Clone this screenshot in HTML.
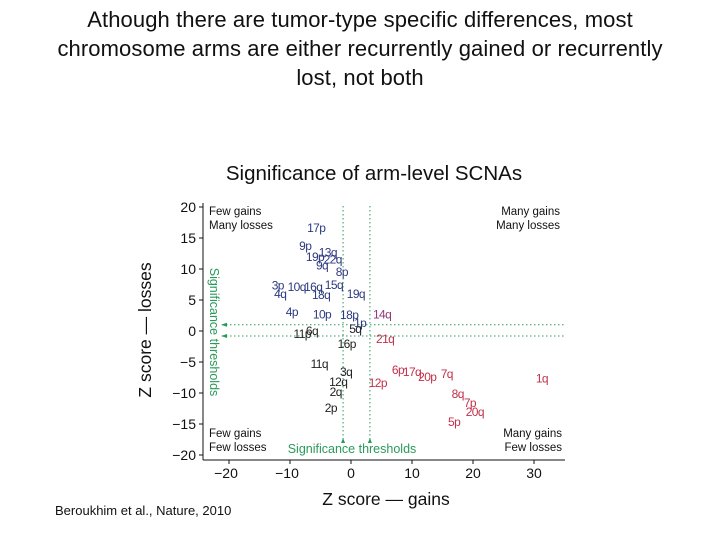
<!DOCTYPE html>
<html><head><meta charset="utf-8"><style>
body{margin:0;background:#fff;width:720px;height:540px;overflow:hidden;font-family:"Liberation Sans",sans-serif}
.hdr{position:absolute;left:0;top:5px;width:720px;text-align:center;font-size:22px;line-height:29px;color:#111;letter-spacing:0.1px}
.cite{position:absolute;left:55px;top:503px;font-size:13px;color:#111}
</style></head><body>
<div class="hdr">Athough there are tumor-type specific differences, most<br>chromosome arms are either recurrently gained or recurrently<br>lost, not both</div>
<div class="cite">Beroukhim et al., Nature, 2010</div>
<svg id="chart" width="720" height="540" style="position:absolute;left:0;top:0"></svg>
<script>
const labels=["17p","9p","13q","19p","22q","9q","8p","3p","4q","10q","16q","18q","15q","19q","4p","10p","18p","14q","1p","5q","6q","11p","16p","21q","11q","3q","12q","2q","2p","12p","6p","17q","20p","7q","1q","8q","7p","20q","5p"];
const gains=[-5.7,-7.5,-3.8,-5.9,-3.0,-4.75,-1.5,-12,-11.6,-8.9,-6.2,-4.9,-2.8,0.8,-9.7,-4.75,-0.3,5.1,1.5,0.7,-6.4,-8,-0.7,5.6,-5.2,-0.8,-2.1,-2.5,-3.3,4.4,7.7,10,12.5,15.7,31.3,17.5,19.5,20.3,16.9];
const losses=[16.6,13.7,12.7,11.9,11.5,10.6,9.5,7.3,6,7.1,7.1,5.8,7.4,6,3.1,2.7,2.6,2.7,1.3,0.3,0,-0.5,-2.1,-1.3,-5.3,-6.6,-8.2,-9.8,-12.4,-8.4,-6.3,-6.6,-7.4,-6.9,-7.7,-10.2,-11.6,-13.1,-14.7];
const groups=["b","b","b","b","b","b","b","b","b","b","b","b","b","b","b","b","b","p","b","k","k","k","k","r","k","k","k","k","k","r","r","r","r","r","r","r","r","r","r"];
const xTicks=[-20,-10,0,10,20,30];
const yTicks=[20,15,10,5,0,-5,-10,-15,-20];
const thrX=[-1.3,3.1], thrY=[1,-0.8];
const X=v=>351+v*6.1, Y=v=>331-v*6.2;
const col={b:"#2c3a80",k:"#222",r:"#c3304a",p:"#8a3b7c"};
const G="#2a9a5a";
const svg=document.getElementById('chart');
function mk(t,a,txt){const e=document.createElementNS("http://www.w3.org/2000/svg",t);for(const k in a)e.setAttribute(k,a[k]);if(txt!=null)e.textContent=txt;svg.appendChild(e);return e;}
let e;
e=mk("text",{x:374,y:180,"text-anchor":"middle","font-size":20.5,fill:"#111"},"Significance of arm-level SCNAs");


e=mk("line",{x1:203,y1:203,x2:203,y2:460,stroke:"#111","stroke-width":1});


e=mk("line",{x1:203,y1:460,x2:565,y2:460,stroke:"#111","stroke-width":1});


yTicks.forEach(v=>{
 e=mk("line",{x1:199,y1:Y(v),x2:203,y2:Y(v),stroke:"#111"});
 
 
 e=mk("text",{x:196,y:Y(v)+5,"text-anchor":"end","font-size":14,fill:"#111"},v<0?"\u2212"+(-v):String(v));
 
 
});
xTicks.forEach(v=>{
 e=mk("line",{x1:X(v),y1:460,x2:X(v),y2:464,stroke:"#111"});
 
 
 e=mk("text",{x:X(v)-(v<0?3:0),y:478,"text-anchor":"middle","font-size":14,fill:"#111"},v<0?"\u2212"+(-v):String(v));
 
 
});
e=mk("text",{x:386,y:505,"text-anchor":"middle","font-size":17.5,fill:"#111"},"Z score \u2014 gains");


e=mk("text",{x:0,y:0,"text-anchor":"middle","font-size":17.5,fill:"#111",transform:"translate(151,330) rotate(-90)"},"Z score \u2014 losses");


thrX.forEach(v=>{
 e=mk("line",{x1:X(v),y1:206,x2:X(v),y2:440,stroke:G,"stroke-dasharray":"1.5,2.5"});
 
 
 e=mk("path",{d:`M${X(v)} 438 L${X(v)-2} 443 L${X(v)+2} 443 Z`,fill:G});
 
 
});
thrY.forEach(v=>{
 e=mk("line",{x1:222,y1:Y(v),x2:565,y2:Y(v),stroke:G,"stroke-dasharray":"1.5,2.5"});
 
 
 e=mk("path",{d:`M221 ${Y(v)} L227 ${Y(v)-2} L227 ${Y(v)+2} Z`,fill:G});
 
 
});
e=mk("text",{x:352,y:453,"text-anchor":"middle","font-size":12.5,fill:G},"Significance thresholds");


e=mk("text",{x:0,y:0,"text-anchor":"middle","font-size":12.5,fill:G,transform:"translate(210,332) rotate(90)"},"Significance thresholds");


[["Few gains",209,215,"start"],["Many losses",209,229,"start"],["Many gains",560,215,"end"],["Many losses",560,229,"end"],["Few gains",209,437,"start"],["Few losses",209,451,"start"],["Many gains",562,437,"end"],["Few losses",562,451,"end"]].forEach(q=>{
 e=mk("text",{x:q[1],y:q[2],"text-anchor":q[3],"font-size":11.5,fill:"#111"},q[0]);
 
 
});
labels.forEach((l,i)=>{
 e=mk("text",{x:X(gains[i]),y:Y(losses[i])+4,"text-anchor":"middle","font-size":12,fill:col[groups[i]],"letter-spacing":"-0.6"},l);
 
 
});
</script>
</body></html>
